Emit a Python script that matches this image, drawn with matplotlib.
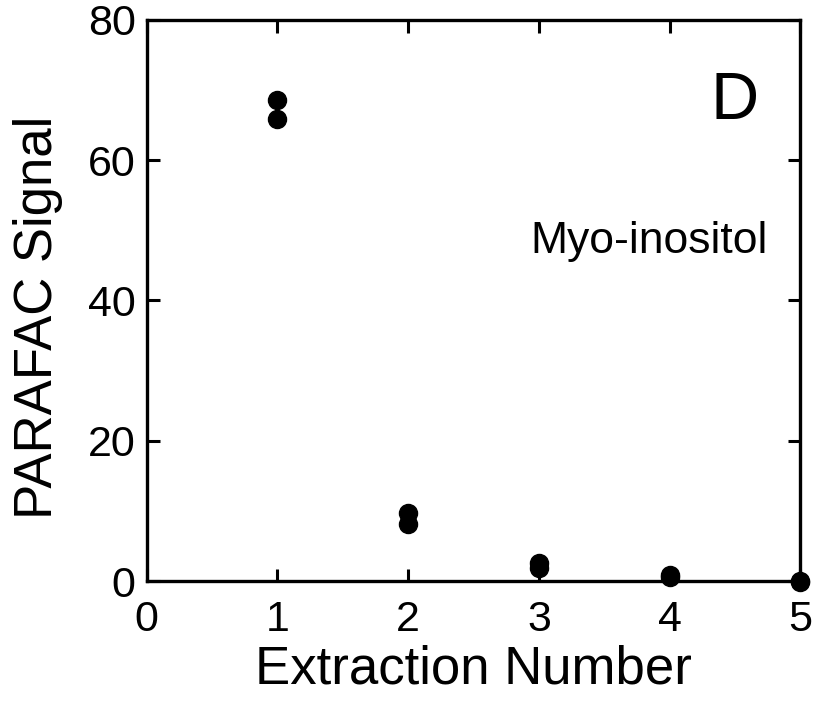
import numpy as np
import matplotlib
matplotlib.use("Agg")
from matplotlib import pyplot as plt

plt.rcParams['font.family'] = ['Liberation Sans', 'DejaVu Sans']

# replicate extractions, two measurements per extraction number
extraction = [1, 1, 2, 2, 3, 3, 4, 4, 5, 5]
signal = [68.5, 65.8, 9.7, 8.2, 2.5, 1.9, 0.8, 0.6, 0.0, -0.1]

x_ticks = [0, 1, 2, 3, 4, 5]
y_ticks = [0, 20, 40, 60, 80]

fig = plt.figure(figsize=(8.2, 7.06), dpi=100)
ax = fig.add_axes([0.179, 0.177, 0.797, 0.795])

ax.plot(extraction, signal, "o", color="black", markersize=13, clip_on=False, zorder=3)

ax.set_xlim(0, 5)
ax.set_ylim(0, 80)
ax.set_xticks(x_ticks)
ax.set_yticks(y_ticks)
ax.tick_params(direction="in", length=9, width=2.2, labelsize=31,
               top=True, right=True)
ax.tick_params(axis="x", pad=14)
ax.tick_params(axis="y", pad=8)
for s in ax.spines.values():
    s.set_linewidth(2.4)

ax.set_xlabel("Extraction Number", fontsize=38, labelpad=3)
ax.set_ylabel("PARAFAC Signal", fontsize=38)
ax.yaxis.set_label_coords(-0.128, 0.47)

ax.text(0.936, 0.823, "D", transform=ax.transAxes, fontsize=48, ha="right", va="baseline")
ax.text(0.95, 0.585, "Myo-inositol", transform=ax.transAxes, fontsize=32, ha="right", va="baseline")

fig.savefig("out.png", dpi=100)
